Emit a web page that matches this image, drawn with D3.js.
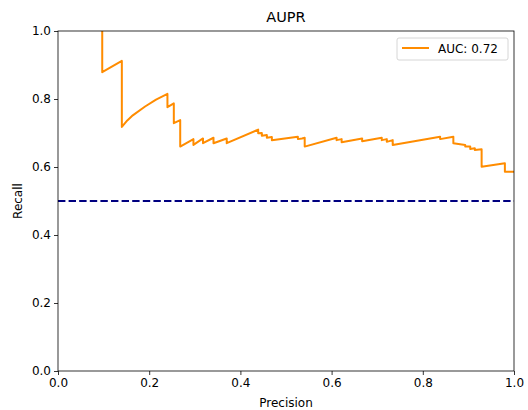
<!DOCTYPE html>
<html>
<head>
<meta charset="utf-8">
<script src="https://cdn.jsdelivr.net/npm/d3@7"></script>
<style>
  body { margin: 0; background: #fff; }
  svg text { font-family: "DejaVu Sans", sans-serif; fill: #000; }
</style>
</head>
<body>
<svg id="chart"></svg>
<script>
var width = 528;
var height = 410;

// curve points (x = precision, y = recall)
var precision = [0.097, 0.097, 0.140, 0.140, 0.152, 0.164, 0.191, 0.215, 0.240, 0.240, 0.254, 0.254, 0.268, 0.268,
  0.297, 0.297, 0.318, 0.318, 0.341, 0.341, 0.370, 0.370,
  0.439, 0.439, 0.447, 0.447, 0.458, 0.458, 0.469, 0.469,
  0.526, 0.526, 0.535, 0.541, 0.541,
  0.611, 0.611, 0.622, 0.622,
  0.667, 0.667, 0.710, 0.710, 0.721, 0.721, 0.734, 0.734,
  0.838, 0.838, 0.867, 0.867, 0.893, 0.893, 0.904, 0.904, 0.914, 0.914, 0.929, 0.929,
  0.980, 0.980, 1.0];
var recall = [1.0, 0.879, 0.912, 0.718, 0.737, 0.752, 0.778, 0.798, 0.815, 0.776, 0.787, 0.729, 0.738, 0.660,
  0.682, 0.665, 0.684, 0.670, 0.686, 0.670, 0.684, 0.670,
  0.710, 0.699, 0.700, 0.692, 0.694, 0.686, 0.688, 0.679,
  0.689, 0.682, 0.684, 0.686, 0.660,
  0.686, 0.679, 0.682, 0.673,
  0.684, 0.676, 0.686, 0.679, 0.682, 0.674, 0.679, 0.665,
  0.689, 0.682, 0.689, 0.670, 0.665, 0.660, 0.660, 0.653, 0.655, 0.650, 0.652, 0.601,
  0.611, 0.586, 0.586];
var baseline = 0.5;
var ticks = [0, 0.2, 0.4, 0.6, 0.8, 1.0];
var aucLabel = "AUC: 0.72";

var margin = {top: 31, right: 14, bottom: 39, left: 58};
var svg = d3.select("#chart").attr("width", width).attr("height", height);

var x = d3.scaleLinear().domain([0, 1]).range([margin.left, width - margin.right]);
var y = d3.scaleLinear().domain([0, 1]).range([height - margin.bottom, margin.top]);

svg.append("clipPath").attr("id", "clip")
  .append("rect")
  .attr("x", x(0)).attr("y", y(1))
  .attr("width", x(1) - x(0)).attr("height", y(0) - y(1));

var pts = precision.map(function(p, i) { return [p, recall[i]]; });

var line = d3.line()
  .x(function(d) { return x(d[0]); })
  .y(function(d) { return y(d[1]); });

var plot = svg.append("g").attr("clip-path", "url(#clip)");

plot.append("path")
  .datum(pts)
  .attr("d", line)
  .attr("fill", "none")
  .attr("stroke", "darkorange")
  .attr("stroke-width", 2)
  .attr("stroke-linejoin", "round");

plot.append("path")
  .datum([[0, baseline], [1, baseline]])
  .attr("d", line)
  .attr("fill", "none")
  .attr("stroke", "navy")
  .attr("stroke-width", 2)
  .attr("stroke-dasharray", "7.4,3.2");

// axes
var xAxis = svg.append("g")
  .attr("transform", "translate(0," + y(0) + ")")
  .call(d3.axisBottom(x).tickValues(ticks).tickFormat(d3.format(".1f")).tickSizeInner(4).tickSizeOuter(0).tickPadding(3));
var yAxis = svg.append("g")
  .attr("transform", "translate(" + x(0) + ",0)")
  .call(d3.axisLeft(y).tickValues(ticks).tickFormat(d3.format(".1f")).tickSizeInner(4).tickSizeOuter(0).tickPadding(3));
[xAxis, yAxis].forEach(function(a) {
  a.select(".domain").remove();
  a.selectAll("text").style("font-size", "12px").style("font-family", "DejaVu Sans");
  a.selectAll("line").attr("stroke", "#000").attr("stroke-width", 0.8);
});

// frame
svg.append("rect")
  .attr("x", x(0)).attr("y", y(1))
  .attr("width", x(1) - x(0)).attr("height", y(0) - y(1))
  .attr("fill", "none").attr("stroke", "#000").attr("stroke-width", 0.8);

// labels
svg.append("text")
  .attr("x", (x(0) + x(1)) / 2).attr("y", 22)
  .attr("text-anchor", "middle").style("font-size", "14.5px")
  .text("AUPR");
svg.append("text")
  .attr("x", (x(0) + x(1)) / 2).attr("y", 406.5)
  .attr("text-anchor", "middle").style("font-size", "12px")
  .text("Precision");
svg.append("text")
  .attr("transform", "translate(21.5," + (y(0) + y(1)) / 2 + ") rotate(-90)")
  .attr("text-anchor", "middle").style("font-size", "12px")
  .text("Recall");

// legend
var lg = svg.append("g").attr("transform", "translate(397,38)");
lg.append("rect")
  .attr("width", 111).attr("height", 22).attr("rx", 2)
  .attr("fill", "#fff").attr("fill-opacity", 0.8)
  .attr("stroke", "#ccc").attr("stroke-width", 0.8);
lg.append("line")
  .attr("x1", 5).attr("x2", 32).attr("y1", 10).attr("y2", 10)
  .attr("stroke", "darkorange").attr("stroke-width", 2);
lg.append("text")
  .attr("x", 41).attr("y", 14.5)
  .style("font-size", "12px")
  .text(aucLabel);
</script>
</body>
</html>
